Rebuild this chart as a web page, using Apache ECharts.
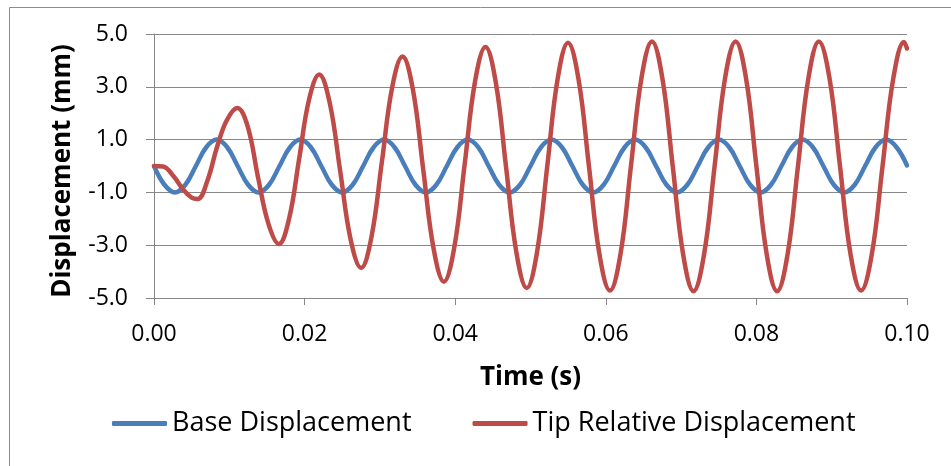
<!DOCTYPE html>
<html><head><meta charset="utf-8">
<script src="https://cdn.jsdelivr.net/npm/echarts@6/dist/echarts.min.js"></script>
<style>html,body{margin:0;padding:0;background:#fff}#c{width:951px;height:466px}</style>
</head><body><div id="c"></div>
<script>
const xTicks = [0.00, 0.02, 0.04, 0.06, 0.08, 0.10];
const yTicks = [-5, -3, -1, 1, 3, 5];
const seriesNames = ['Base Displacement', 'Tip Relative Displacement'];
const xTitle = 'Time (s)';
const yTitle = 'Displacement (mm)';

const baseTime = [0, 0.00139, 0.00278, 0.00417, 0.00556, 0.00694, 0.00833, 0.00972,
  0.01111, 0.0125, 0.01389, 0.01528, 0.01667, 0.01806, 0.01944, 0.02083,
  0.02222, 0.02361, 0.025, 0.02639, 0.02778, 0.02917, 0.03056, 0.03194,
  0.03333, 0.03472, 0.03611, 0.0375, 0.03889, 0.04028, 0.04167, 0.04306,
  0.04444, 0.04583, 0.04722, 0.04861, 0.05, 0.05139, 0.05278, 0.05417,
  0.05556, 0.05694, 0.05833, 0.05972, 0.06111, 0.0625, 0.06389, 0.06528,
  0.06667, 0.06806, 0.06944, 0.07083, 0.07222, 0.07361, 0.075, 0.07639,
  0.07778, 0.07917, 0.08056, 0.08194, 0.08333, 0.08472, 0.08611, 0.0875,
  0.08889, 0.09028, 0.09167, 0.09306, 0.09444, 0.09583, 0.09722, 0.09861, 0.1];
const baseDisp = [0, -0.71, -1, -0.71, 0, 0.71, 1, 0.71,
  0, -0.71, -1, -0.71, 0, 0.71, 1, 0.71,
  0, -0.71, -1, -0.71, 0, 0.71, 1, 0.71,
  0, -0.71, -1, -0.71, 0, 0.71, 1, 0.71,
  0, -0.71, -1, -0.71, 0, 0.71, 1, 0.71,
  0, -0.71, -1, -0.71, 0, 0.71, 1, 0.71,
  0, -0.71, -1, -0.71, 0, 0.71, 1, 0.71,
  0, -0.71, -1, -0.71, 0, 0.71, 1, 0.71,
  0, -0.71, -1, -0.71, 0, 0.71, 1, 0.71, 0.02];

const tipTime = [0, 0.0012, 0.0026, 0.0039, 0.0050, 0.0058, 0.0071, 0.0084, 0.0097, 0.01106,
  0.01244, 0.01383, 0.01521, 0.01659,
  0.01793, 0.01927, 0.0206, 0.02194,
  0.02333, 0.02473, 0.02612, 0.02751,
  0.02888, 0.03026, 0.03163, 0.0330,
  0.03438, 0.03575, 0.03713, 0.0385,
  0.03988, 0.04126, 0.04264, 0.04402,
  0.04539, 0.04676, 0.04813, 0.0495,
  0.05087, 0.05224, 0.05361, 0.05498,
  0.05637, 0.05777, 0.05916, 0.06055,
  0.06195, 0.06334, 0.06474, 0.06613,
  0.06751, 0.06889, 0.07027, 0.07165,
  0.07305, 0.07445, 0.07584, 0.07724,
  0.07862, 0.08, 0.08137, 0.08275,
  0.08414, 0.08552, 0.08691, 0.08829,
  0.0897, 0.0911, 0.0925, 0.0939,
  0.09533, 0.09675, 0.09818, 0.0996,
  0.1];
const tipDisp = [0, -0.02, -0.39, -0.9, -1.2, -1.25, -0.55, 0.75, 1.75, 2.2,
  1.5, -0.45, -2.2, -2.95,
  -2.01, 0.26, 2.53, 3.47,
  2.4, -0.2, -2.79, -3.86,
  -2.69, 0.15, 2.98, 4.15,
  2.9, -0.12, -3.13, -4.38,
  -3.08, 0.07, 3.21, 4.51,
  3.17, -0.06, -3.28, -4.62,
  -3.26, 0.03, 3.31, 4.67,
  3.3, -0.03, -3.35, -4.72,
  -3.34, 0, 3.34, 4.72,
  3.33, -0.01, -3.35, -4.74,
  -3.35, -0.01, 3.33, 4.72,
  3.33, -0.01, -3.35, -4.74,
  -3.35, -0.01, 3.33, 4.72,
  3.34, 0, -3.34, -4.72,
  -3.34, -0.01, 3.32, 4.7,
  4.45];

const zip = (a, b) => a.map((t, i) => [t, b[i]]);
const gray = '#878787';
const font = '"Open Sans", Lato, sans-serif';

const chart = echarts.init(document.getElementById('c'), null, {renderer: 'canvas'});
chart.setOption({
  animation: false,
  backgroundColor: '#ffffff',
  graphic: [{
    type: 'rect', left: 7, top: 5, silent: true,
    shape: {width: 1000, height: 500},
    style: {fill: 'none', stroke: '#8c8c8c', lineWidth: 1}
  }],
  grid: {left: 154, top: 34, width: 753, height: 264, containLabel: false},
  legend: {
    data: seriesNames,
    left: 107, top: 405,
    icon: 'roundRect',
    itemWidth: 55, itemHeight: 5, itemGap: 61,
    textStyle: {fontFamily: font, fontSize: 27, color: '#000'}
  },
  xAxis: {
    type: 'value',
    min: xTicks[0], max: xTicks[xTicks.length - 1],
    interval: 0.02,
    name: xTitle, nameLocation: 'middle', nameGap: 67,
    nameTextStyle: {fontFamily: font, fontSize: 26, fontWeight: 'bold', color: '#000'},
    axisLine: {show: true, onZero: false, lineStyle: {color: gray, width: 1}},
    axisTick: {show: true, length: 7, lineStyle: {color: gray}},
    axisLabel: {margin: 25, fontFamily: font, fontSize: 23, color: '#000',
      formatter: v => v.toFixed(2)},
    splitLine: {show: false}
  },
  yAxis: {
    type: 'value',
    min: yTicks[0], max: yTicks[yTicks.length - 1],
    interval: yTicks[1] - yTicks[0],
    name: yTitle, nameLocation: 'middle', nameGap: 78, nameRotate: 90,
    nameTextStyle: {fontFamily: font, fontSize: 26, fontWeight: 'bold', color: '#000',
      padding: [0, 10, 0, 0]},
    axisLine: {show: true, lineStyle: {color: gray, width: 1}},
    axisTick: {show: true, length: 8, lineStyle: {color: gray}},
    axisLabel: {margin: 26, fontFamily: font, fontSize: 23, color: '#000',
      formatter: v => v.toFixed(1)},
    splitLine: {show: true, lineStyle: {color: gray, width: 1}}
  },
  series: [
    {name: seriesNames[0], type: 'line', data: zip(baseTime, baseDisp),
      symbol: 'none', smooth: 0.4, color: '#4A7EBB',
      lineStyle: {width: 4.5, color: '#4A7EBB', cap: 'round', join: 'round'}},
    {name: seriesNames[1], type: 'line', data: zip(tipTime, tipDisp),
      symbol: 'none', smooth: 0.4, color: '#BE4B48',
      lineStyle: {width: 4.5, color: '#BE4B48', cap: 'round', join: 'round'}}
  ]
});
</script>
</body></html>
